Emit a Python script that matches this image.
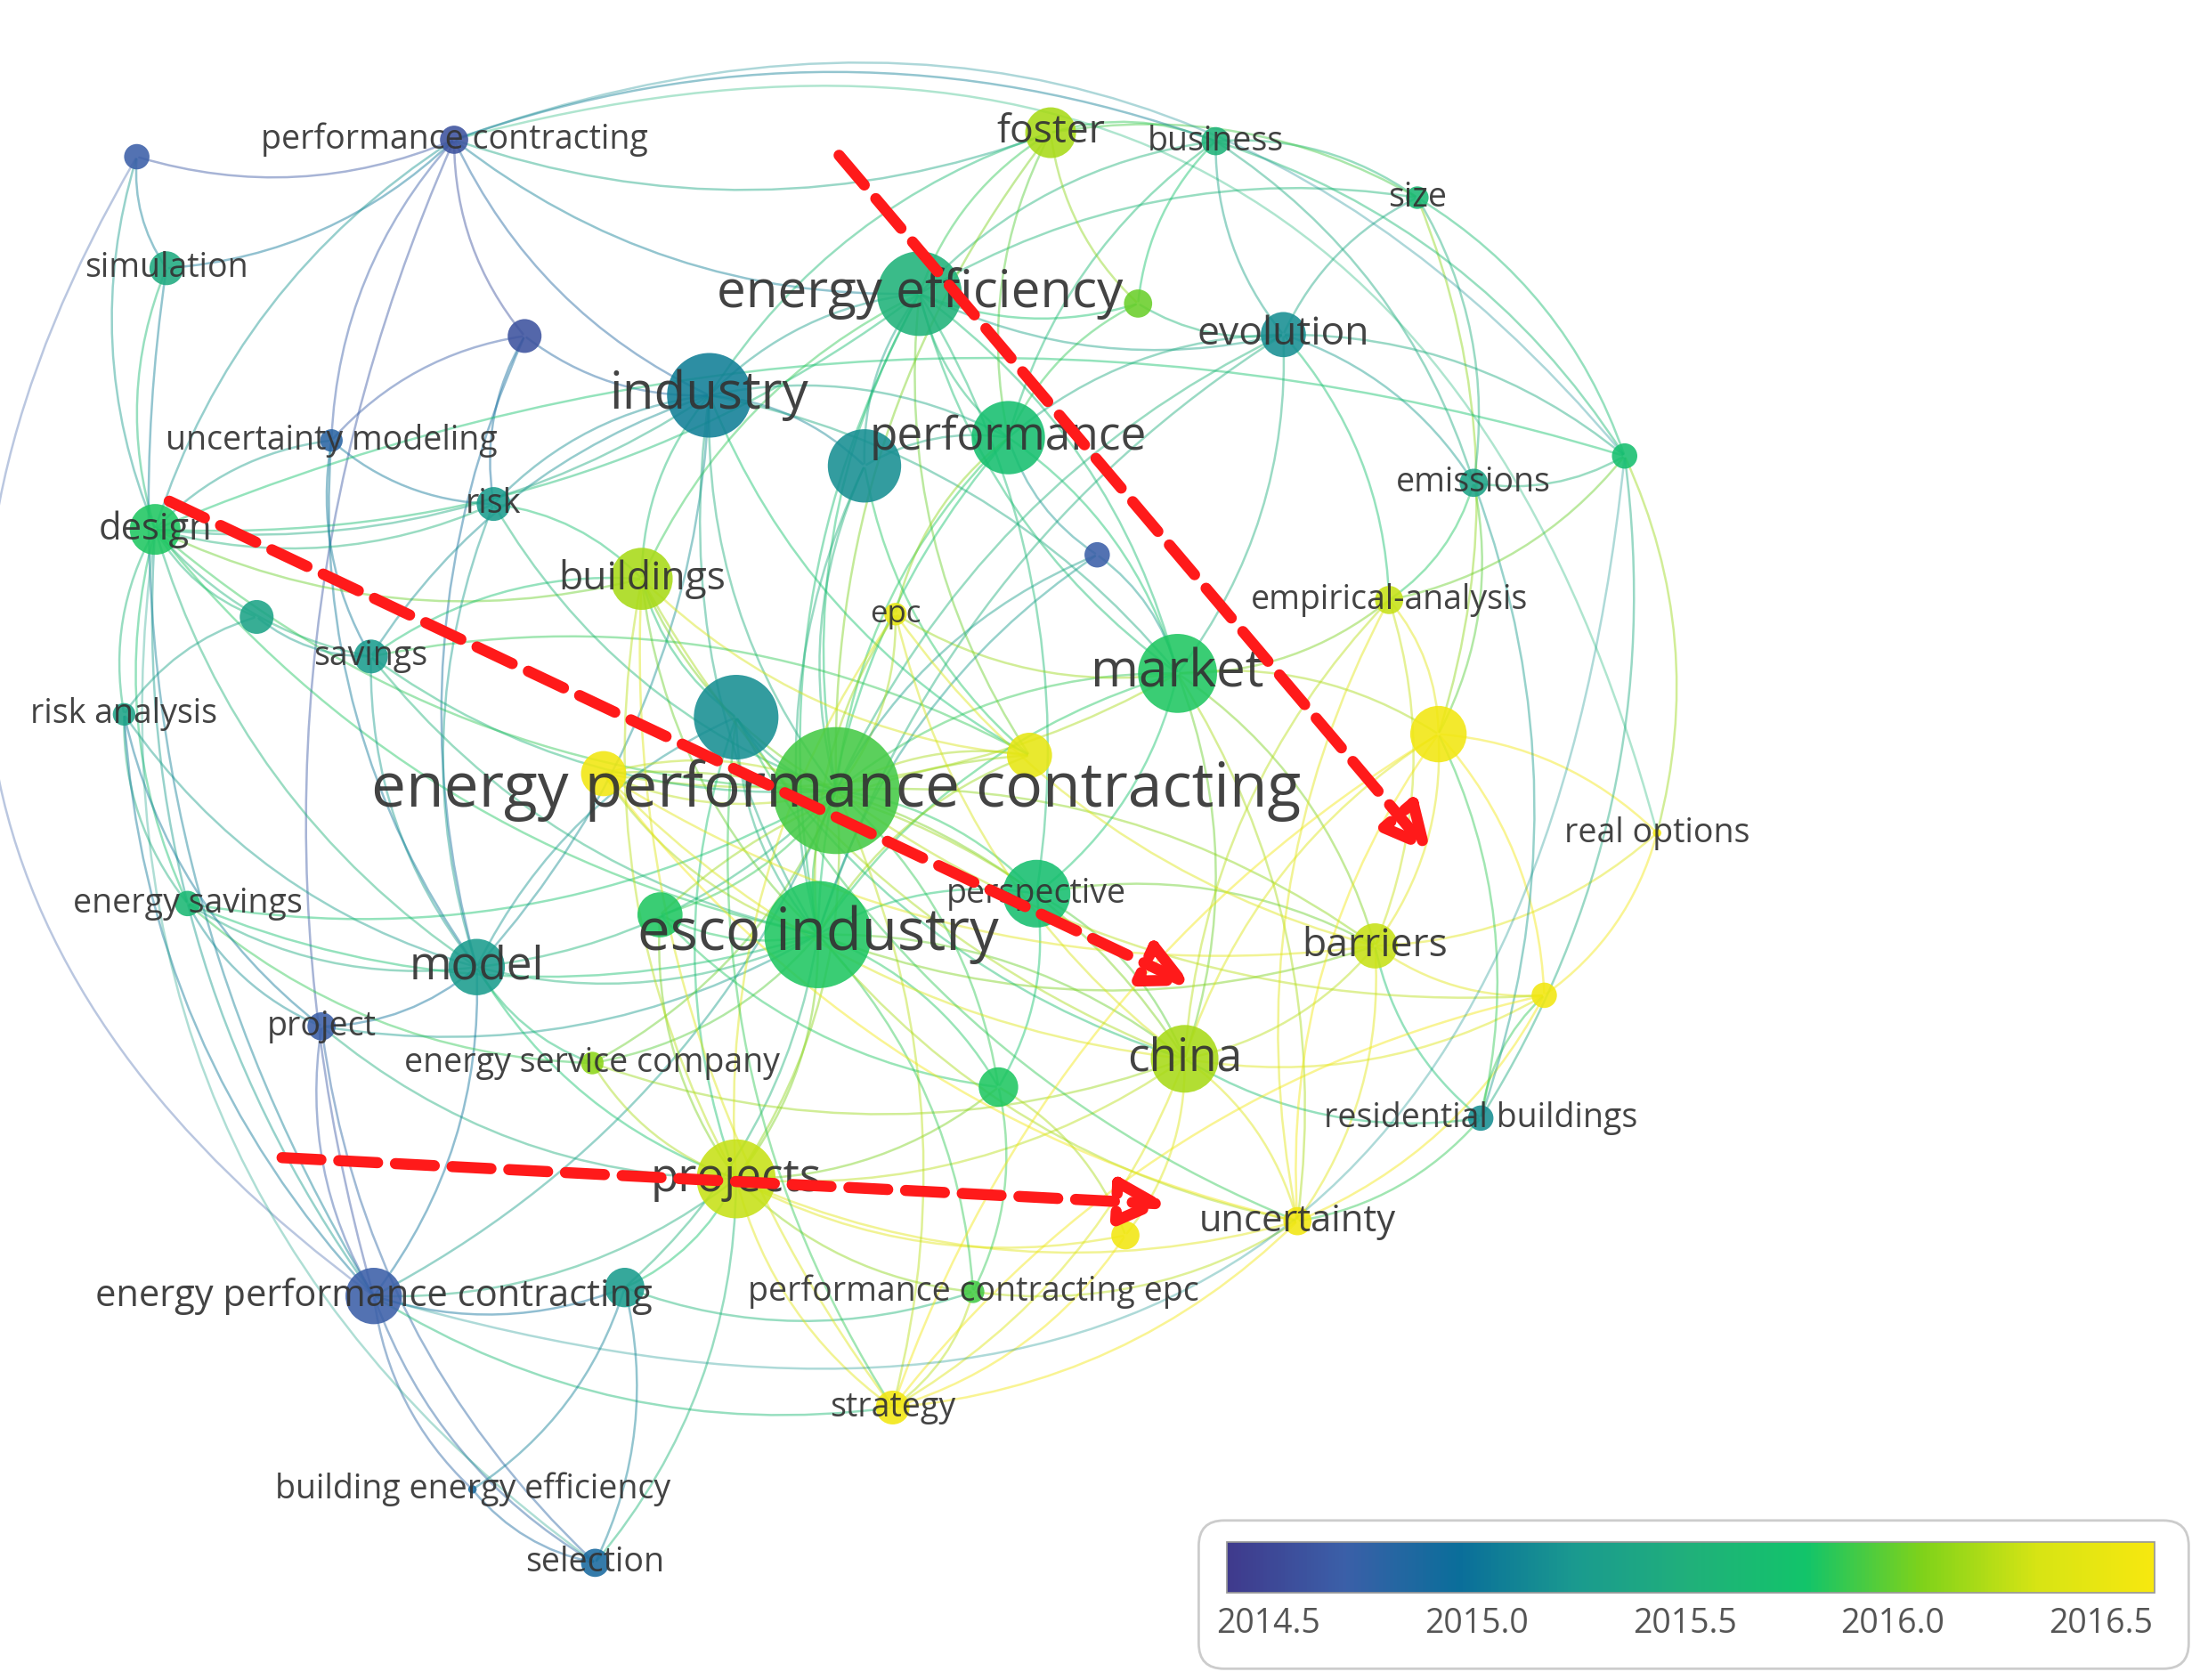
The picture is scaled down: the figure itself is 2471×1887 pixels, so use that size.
import numpy as np, pandas as pd, matplotlib
matplotlib.use("Agg")
import matplotlib.pyplot as plt, seaborn as sns
from matplotlib.colors import LinearSegmentedColormap, Normalize
from matplotlib.patches import FancyArrowPatch, FancyBboxPatch

sns.set_theme(style="white")
plt.rcParams['font.family'] = ['Open Sans', 'DejaVu Sans']

keys = ["n1","pc","sim","n2","um","risk","design","buildings","savings","n3","ra","industry","ee","perf","n4",
        "foster","business","size","evolution","n5","emissions","n6","n7","emp","epcs","market","n8","n9","n10","n11",
        "EPC","ro","persp","esco","n12","barriers","es","model","project","esc","china","n13","n14","rb","projects",
        "unc","n15","EPC2","n16","pce","strategy","bee","selection"]
labels = ["","performance contracting","simulation","","uncertainty modeling","risk","design","buildings","savings","","risk analysis",
          "industry","energy efficiency","performance","","foster","business","size","evolution","","emissions","","",
          "empirical-analysis","epc","market","","","","","energy performance contracting","real options","perspective",
          "esco industry","","barriers","energy savings","model","project","energy service company","china","","",
          "residential buildings","projects","uncertainty","","energy performance contracting","","performance contracting epc",
          "strategy","building energy efficiency","selection"]
xs = [97,322,118,372,235,350,110,455,263,182,88,503,652,715,613,745,862,1005,910,807,1045,1152,778,985,635,835,1020,522,428,730,
      593,1175,735,580,468,975,133,338,228,420,840,1095,708,1050,522,920,798,265,443,690,633,335,422]
ys = [111,99,190,238,312,357,375,410,465,437,506,280,208,310,330,94,100,140,237,215,342,323,393,425,435,477,520,508,548,535,
      560,590,633,662,648,670,640,685,727,753,750,705,770,792,835,865,875,918,912,915,997,1055,1107]
size = [9,10,12,12,8,12,18,22,12,12,8,30,30,26,26,18,10,8,16,10,10,9,9,10,8,28,20,30,16,16,
        45,3,24,38,16,16,9,20,10,8,24,9,14,9,28,10,10,20,14,8,12,3,10]
year = [2014.6,2014.5,2015.4,2014.5,2014.7,2015.2,2015.8,2016.2,2015.2,2015.3,2015.3,2015.0,2015.5,2015.7,2015.1,2016.2,2015.5,2015.6,
        2015.1,2016.0,2015.3,2015.7,2014.6,2016.3,2016.5,2015.8,2016.6,2015.1,2016.6,2016.5,2015.9,2016.6,2015.7,2015.8,2015.8,
        2016.3,2015.6,2015.2,2014.6,2016.1,2016.2,2016.6,2015.8,2015.1,2016.3,2016.6,2016.6,2014.6,2015.2,2015.9,2016.6,2014.8,2014.8]
fsize = [0,27,27,0,27,27,30,32,27,0,27,42,42,37,0,32,27,27,32,0,27,0,0,27,25,42,0,0,0,0,
         50,27,27,47,0,32,27,37,27,27,37,0,0,27,37,30,0,30,0,27,27,27,27]
edges = ("n1-sim n1-design sim-design sim-pc pc-n2 pc-industry pc-ee pc-EPC2 pc-design pc-um pc-foster n2-industry n2-risk n2-um n2-model "
 "um-risk um-design um-savings design-n3 design-ra design-savings design-industry design-EPC design-esco design-es design-model design-ee "
 "design-buildings design-EPC2 n3-savings n3-ra ra-es ra-EPC2 ra-model es-project es-model es-esco es-EPC project-EPC2 project-model project-esco "
 "project-projects project-selection EPC2-bee EPC2-selection EPC2-n16 EPC2-projects EPC2-model EPC2-EPC EPC2-strategy bee-n16 bee-selection "
 "selection-n16 selection-projects n16-projects n16-esco n16-pce model-EPC model-esco model-industry model-esc model-projects esc-esco esc-EPC "
 "esc-projects esc-china projects-esco projects-EPC projects-china projects-unc projects-n15 projects-strategy projects-pce projects-n14 "
 "strategy-unc strategy-n15 strategy-pce strategy-china strategy-EPC pce-esco pce-n14 pce-unc unc-barriers unc-china unc-n13 unc-rb unc-market "
 "n15-china n15-n14 china-EPC china-esco china-persp china-barriers china-market china-rb china-n13 n14-esco n14-persp n14-EPC "
 "barriers-n13 barriers-n8 barriers-market barriers-EPC barriers-persp barriers-ro barriers-emp barriers-rb n13-ro n13-n8 n13-rb ro-n8 ro-n6 "
 "rb-emissions rb-n6 rb-n8 n8-emp n8-market n8-emissions n8-size persp-EPC persp-esco persp-market persp-n10 persp-ee n10-EPC n10-market "
 "market-EPC market-esco market-ee market-perf market-evolution market-emp market-n7 market-industry emp-emissions emp-evolution emp-n6 "
 "emissions-n6 emissions-size emissions-evolution emissions-business n6-size n6-business n6-evolution n6-design size-business size-evolution "
 "size-foster size-ee business-foster business-ee business-evolution business-n5 business-perf business-pc foster-ee foster-n5 foster-perf "
 "foster-industry foster-EPC ee-industry ee-perf ee-n4 ee-EPC ee-esco ee-evolution ee-n5 ee-n11 ee-buildings n5-evolution n5-perf "
 "evolution-perf evolution-EPC evolution-esco perf-n4 perf-EPC perf-esco perf-n7 perf-industry perf-epcs n4-industry n4-EPC n4-esco n4-n11 "
 "industry-EPC industry-esco industry-n11 industry-buildings industry-risk industry-savings buildings-EPC buildings-esco buildings-n9 "
 "buildings-savings buildings-risk buildings-n11 n11-EPC n11-esco n11-n12 n11-savings savings-EPC savings-esco savings-model risk-EPC "
 "n9-EPC n9-esco n9-projects n9-model n12-EPC n12-esco n12-projects EPC-esco EPC-epcs EPC-n10 epcs-esco epcs-market n7-EPC n7-esco "
 "n12-n14 n10-esco n10-china EPC-n13 esco-barriers esco-unc ee-market n1-pc "
 "epcs-china epcs-projects epcs-barriers n9-china n9-unc n9-strategy n10-barriers n10-unc n8-china n8-unc n8-strategy n13-strategy "
 "buildings-projects buildings-china buildings-strategy es-esc risk-model um-model sim-EPC2 ra-project design-risk emp-china emp-unc")
edges = [e.split("-") for e in edges.split()]

df = pd.DataFrame(dict(key=keys, label=labels, x=xs, y=ys, size=size, year=year, fs=fsize))
df["area"] = df["size"] ** 2
idx = {k: i for i, k in enumerate(keys)}

cmap = LinearSegmentedColormap.from_list("vos", ["#3f3a8c", "#3b5fa8", "#0a6e9a", "#1a9a8f", "#20b07a", "#12c46a", "#7fd21a", "#d7e414", "#f7e80f"])
norm = Normalize(2014.3, 2016.65)

fig = plt.figure(figsize=(24.71, 18.87), dpi=100)
ax = fig.add_axes([0, 0, 1, 1])
ax.set_xlim(0, 1560); ax.set_ylim(1190, 0); ax.axis("off")

for a, b in edges:
    i, j = idx[a], idx[b]
    c = cmap(norm((year[i] + year[j]) / 2))
    ax.add_patch(FancyArrowPatch((xs[i], ys[i]), (xs[j], ys[j]), connectionstyle="arc3,rad=0.18", arrowstyle="-",
                                 color=c, alpha=0.45, lw=1.8, zorder=1))
for a, b, r in [("n1", "EPC2", 0.45), ("pc", "n6", -0.35), ("EPC2", "n6", 0.6), ("design", "selection", 0.3), ("pc", "ro", -0.5)]:
    i, j = idx[a], idx[b]
    ax.add_patch(FancyArrowPatch((xs[i], ys[i]), (xs[j], ys[j]), connectionstyle=f"arc3,rad={r}", arrowstyle="-",
                                 color=cmap(norm((year[i] + year[j]) / 2)), alpha=0.35, lw=1.8, zorder=1))

sc = 1.584 * 0.72
sns.scatterplot(data=df, x="x", y="y", hue="year", palette=cmap, hue_norm=norm, size="area",
                sizes=((2 * 3 * sc) ** 2, (2 * 45 * sc) ** 2), size_norm=(9, 2025), legend=False,
                alpha=0.88, edgecolor="none", ax=ax, zorder=2)
ax.set_xlim(0, 1560); ax.set_ylim(1190, 0)

for _, r in df.iterrows():
    if r.label:
        ax.text(r.x, r.y, r.label, fontsize=r.fs, color="#333333", ha="center", va="center", zorder=4, alpha=0.92)

for (x0, y0), (x1, y1) in [((595, 110), (1015, 605)), ((120, 355), (845, 698)), ((200, 820), (828, 853))]:
    ax.annotate("", xy=(x1, y1), xytext=(x0, y0), zorder=5,
                arrowprops=dict(arrowstyle="-|>,head_length=2.6,head_width=1.3", color="#ff1a1a", lw=9,
                                linestyle=(0, (3.5, 1.6)), fill=False, shrinkA=0, shrinkB=0))

box = FancyBboxPatch((850, 1077), 702, 105, boxstyle="round,pad=0,rounding_size=18", fc="white", ec="#cccccc", lw=2, zorder=6)
ax.add_patch(box)
cax = fig.add_axes([870 / 1560, 1 - 1128 / 1190, (1528 - 870) / 1560, 36 / 1190])
cb = matplotlib.colorbar.ColorbarBase(cax, cmap=cmap, norm=Normalize(2014.4, 2016.63), orientation="horizontal")
cb.set_ticks([2014.5, 2015.0, 2015.5, 2016.0, 2016.5])
cb.ax.tick_params(labelsize=27, colors="#555555", direction="in", length=8, pad=12)
cb.outline.set_edgecolor("#999999")
fig.savefig("out.png", dpi=100, facecolor="white")
